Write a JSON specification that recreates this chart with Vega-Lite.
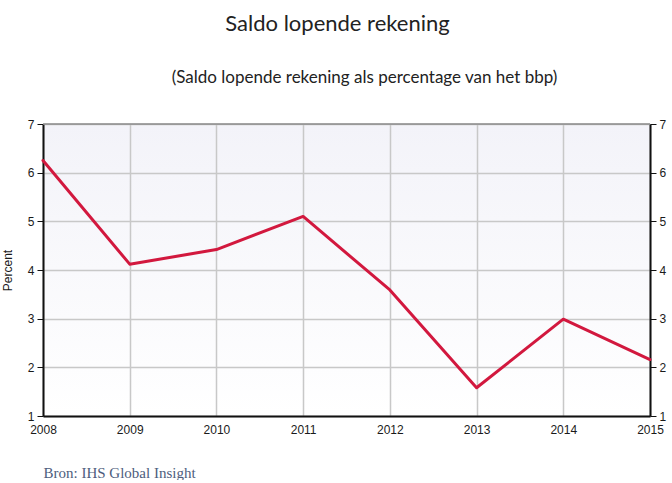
{
  "$schema": "https://vega.github.io/schema/vega-lite/v6.json",
  "padding": {"left": 1, "top": 13, "right": 4, "bottom": 0},
  "background": "#ffffff",
  "title": {
    "text": "Saldo lopende rekening",
    "font": "Lato",
    "fontSize": 22,
    "fontWeight": "normal",
    "color": "#222222",
    "anchor": "middle",
    "frame": "group",
    "offset": 33,
    "dx": -9
  },
  "config": {
    "view": {
      "stroke": null,
      "fill": {
        "gradient": "linear",
        "x1": 0, "y1": 0, "x2": 0, "y2": 1,
        "stops": [
          {"offset": 0, "color": "#f3f3f9"},
          {"offset": 1, "color": "#ffffff"}
        ]
      }
    },
    "concat": {"spacing": 0},
    "axis": {
      "labelFont": "Liberation Sans",
      "labelFontSize": 12,
      "labelColor": "#1a1a1a",
      "titleFont": "Liberation Sans",
      "titleFontWeight": "normal",
      "domainColor": "#111111",
      "domainWidth": 2,
      "tickColor": "#111111",
      "gridColor": "#c8c8c8",
      "gridWidth": 1.5
    }
  },
  "vconcat": [
    {
      "title": {
        "text": "(Saldo lopende rekening als percentage van het bbp)",
        "font": "Lato",
        "fontSize": 17,
        "fontWeight": "normal",
        "color": "#222222",
        "anchor": "middle",
        "frame": "group",
        "offset": 31,
        "dx": 18
      },
      "width": 607,
      "height": 292,
      "data": {
        "values": [
          {"year": 2008, "value": 6.25},
          {"year": 2009, "value": 4.12},
          {"year": 2010, "value": 4.42},
          {"year": 2011, "value": 5.1},
          {"year": 2012, "value": 3.59},
          {"year": 2013, "value": 1.58},
          {"year": 2014, "value": 2.99},
          {"year": 2015, "value": 2.16}
        ]
      },
      "layer": [
        {
          "data": {"values": [{}]},
          "mark": {"type": "rule", "color": "#8a8a8a", "strokeWidth": 1.5},
          "encoding": {
            "y": {
              "datum": 7,
              "type": "quantitative",
              "scale": {"domain": [1, 7], "nice": false, "zero": false},
              "axis": {
                "orient": "right",
                "values": [1, 2, 3, 4, 5, 6, 7],
                "grid": false,
                "tickSize": 6,
                "labelPadding": 3,
                "title": null
              }
            }
          }
        },
        {
          "mark": {"type": "line", "color": "#d2183e", "strokeWidth": 3, "strokeJoin": "round", "strokeCap": "round"},
          "encoding": {
            "x": {
              "field": "year",
              "type": "quantitative",
              "scale": {"domain": [2008, 2015], "nice": false, "zero": false},
              "axis": {
                "values": [2008, 2009, 2010, 2011, 2012, 2013, 2014, 2015],
                "format": "d",
                "grid": true,
                "ticks": false,
                "labelPadding": 8,
                "labelFlush": false,
                "title": "Bron: IHS Global Insight",
                "titleAnchor": "start",
                "titleAlign": "left",
                "titleFont": "Liberation Serif",
                "titleFontSize": 15,
                "titleColor": "#4d5d7d",
                "titlePadding": 30
              }
            },
            "y": {
              "field": "value",
              "type": "quantitative",
              "scale": {"domain": [1, 7], "nice": false, "zero": false},
              "axis": {
                "orient": "left",
                "values": [1, 2, 3, 4, 5, 6, 7],
                "grid": true,
                "tickSize": 6,
                "labelPadding": 3,
                "title": "Percent",
                "titleFontSize": 12,
                "titleColor": "#1a1a1a",
                "titlePadding": 13
              }
            }
          }
        }
      ]
    }
  ]
}
